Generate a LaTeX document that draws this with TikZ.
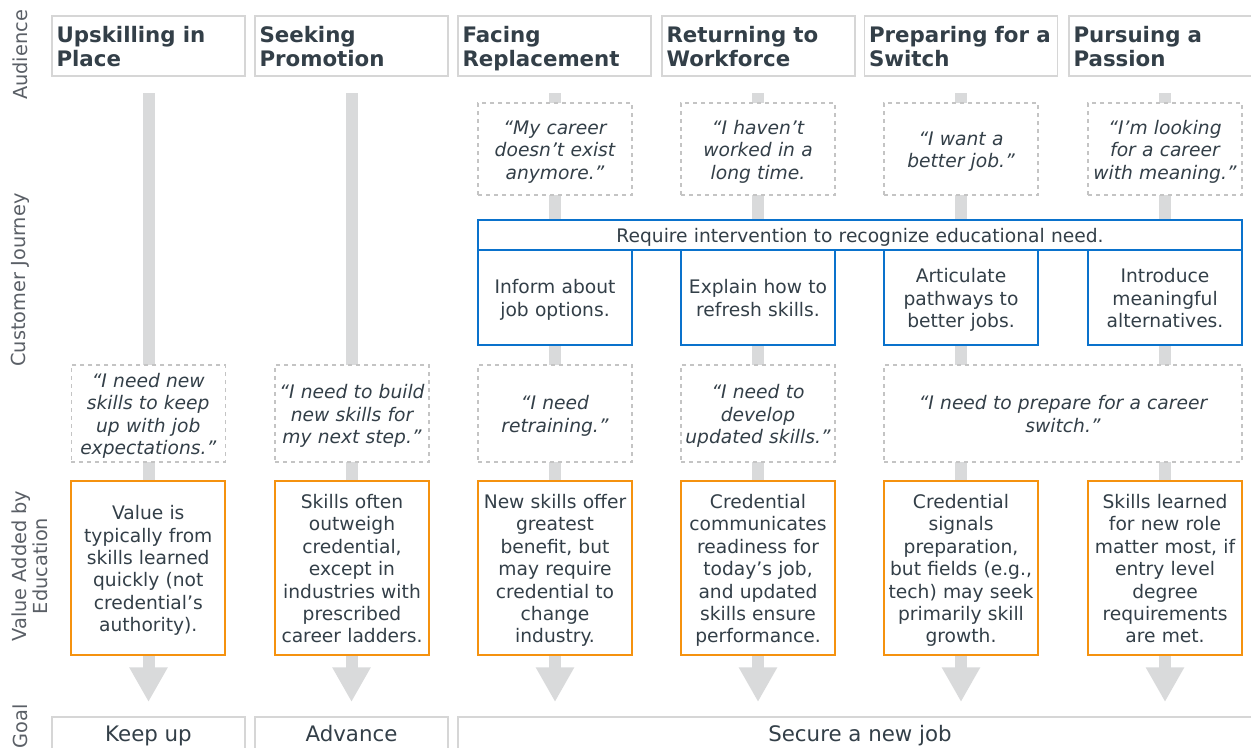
\documentclass[tikz,border=0pt]{standalone}
\usepackage{fontspec}
\setmainfont{DejaVu Sans}
\usetikzlibrary{arrows.meta}

\definecolor{ink}{HTML}{333F48}
\definecolor{labgray}{HTML}{5A5F66}
\definecolor{boxgray}{HTML}{D6D6D6}
\definecolor{dashgray}{HTML}{C4C4C4}
\definecolor{barfill}{HTML}{D9DADB}
\definecolor{needblue}{HTML}{0A72CC}
\definecolor{valorange}{HTML}{F5920F}

\tikzset{
  hdr/.style={draw=boxgray, line width=1.2pt, fill=white, minimum width=144.75pt,
    minimum height=45pt, text width=138pt, align=left, inner xsep=3.3pt, inner ysep=0pt,
    text=ink, font=\bfseries\fontsize{16}{18}\selectfont,
    execute at begin node=\rule{0pt}{18.6pt}, execute at end node=\strut},
  txt/.style={text width=110pt, align=center, inner xsep=2.75pt, inner ysep=0pt, text=ink,
    execute at begin node=\rule{0pt}{16.5pt}, execute at end node=\strut},
  quote/.style={txt, draw=dashgray, dashed, line width=0.9pt, fill=white, minimum width=115.5pt,
    font=\itshape\fontsize{14}{16.8}\selectfont},
  need/.style={txt, draw=needblue, line width=1.2pt, fill=white, minimum width=115.5pt,
    minimum height=71.25pt, font=\fontsize{14}{16.8}\selectfont},
  value/.style={txt, draw=valorange, line width=1.2pt, fill=white, minimum width=115.5pt,
    minimum height=130.5pt, font=\fontsize{14}{16.8}\selectfont},
  goal/.style={draw=boxgray, line width=1.2pt, fill=white, minimum height=28.5pt,
    text height=11.5pt, text depth=3pt, text=ink, font=\fontsize{16}{18}\selectfont},
  lbl/.style={rotate=90, align=center, text=labgray, font=\fontsize{14.5}{16}\selectfont},
  bar/.style={draw=barfill, line width=9pt, -{Triangle[width=27pt,length=26pt]}}
}

\begin{document}
\begin{tikzpicture}[x=0.75pt,y=-0.75pt]
    \useasboundingbox (0,0) rectangle (1251,747);

    % gray flow bars behind the boxes
    \foreach \i/\x in {1/148.5,2/351.5,3/555,4/758,5/961,6/1165} {
        \coordinate (top\i) at (\x,93);
        \coordinate (tip\i) at (\x,702);
        \draw[bar] (top\i) -- (tip\i);
    }

    % row labels
    \node[lbl] (audlbl) at (20,55) {Audience};
    \node[lbl] (jrnlbl) at (20,280) {Customer Journey};
    \node[lbl] (vallbl) at (30,566) {Value Added by\\Education};
    \node[lbl] (goallbl) at (20,726) {Goal};

    % audience headers
    \node[hdr] (hdr1) at (148.5,46) {Upskilling in\\Place};
    \node[hdr] (hdr2) at (351.5,46) {Seeking\\Promotion};
    \node[hdr] (hdr3) at (554.5,46) {Facing\\Replacement};
    \node[hdr] (hdr4) at (758.5,46) {Returning to\\Workforce};
    \node[hdr] (hdr5) at (961,46) {Preparing for a\\Switch};
    \node[hdr] (hdr6) at (1165.5,46) {Pursuing a\\Passion};

    % first thoughts
    \node[quote, minimum height=69pt] (say3) at (555,149) {“My career\\doesn’t exist\\anymore.”};
    \node[quote, minimum height=69pt] (say4) at (758,149) {“I haven’t\\worked in a\\long time.};
    \node[quote, minimum height=69pt] (say5) at (961,149) {“I want a\\better job.”};
    \node[quote, minimum height=69pt] (say6) at (1165,149) {“I’m looking\\for a career\\with meaning.”};

    % intervention
    \node[need, text width=567pt, minimum width=573pt, minimum height=22.5pt] (need) at (860,235) {Require intervention to recognize educational need.};
    \node[need] (need3) at (555,297.5) {Inform about\\job options.};
    \node[need] (need4) at (758,297.5) {Explain how to\\refresh skills.};
    \node[need] (need5) at (961,297.5) {Articulate\\pathways to\\better jobs.};
    \node[need] (need6) at (1165,297.5) {Introduce\\meaningful\\alternatives.};

    % second thoughts
    \node[quote, minimum height=72.75pt] (ask1) at (148.25,413.5) {“I need new\\skills to keep\\up with job\\expectations.”};
    \node[quote, minimum height=72.75pt] (ask2) at (352,413.5) {“I need to build\\new skills for\\my next step.”};
    \node[quote, minimum height=72.75pt] (ask3) at (555,413.5) {“I need\\retraining.”};
    \node[quote, minimum height=72.75pt] (ask4) at (758,413.5) {“I need to\\develop\\updated skills.”};
    \node[quote, text width=262pt, minimum height=72.75pt, minimum width=268.5pt] (ask56) at (1063,413.5) {“I need to prepare for a career\\switch.”};

    % value added
    \node[value] (val1) at (148.25,568) {Value is\\typically from\\skills learned\\quickly (not\\credential’s\\authority).};
    \node[value] (val2) at (352,568) {Skills often\\outweigh\\credential,\\except in\\industries with\\prescribed\\career ladders.};
    \node[value] (val3) at (555,568) {New skills offer\\greatest\\benefit, but\\may require\\credential to\\change\\industry.};
    \node[value] (val4) at (758,568) {Credential\\communicates\\readiness for\\today’s job,\\and updated\\skills ensure\\performance.};
    \node[value] (val5) at (961,568) {Credential\\signals\\preparation,\\but fields (e.g.,\\tech) may seek\\primarily skill\\growth.};
    \node[value] (val6) at (1165,568) {Skills learned\\for new role\\matter most, if\\entry level\\degree\\requirements\\are met.};

    % goals
    \node[goal, minimum width=144.75pt] (goal1) at (148.5,736) {Keep up};
    \node[goal, minimum width=144.75pt] (goal2) at (351.5,736) {Advance};
    \node[goal, minimum width=603pt] (goal3) at (860,736) {Secure a new job};
\end{tikzpicture}
\end{document}
